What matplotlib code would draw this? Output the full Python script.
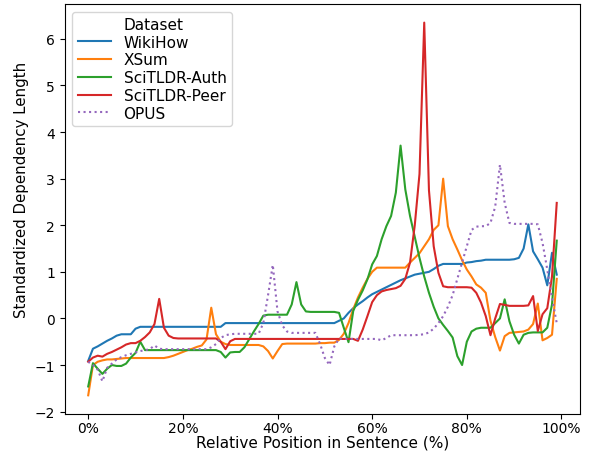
import matplotlib
matplotlib.use("Agg")
import matplotlib.pyplot as plt
from matplotlib.ticker import PercentFormatter
from matplotlib.lines import Line2D

# relative position (%) of each bin
position = list(range(100))

wikihow = [
    -0.91, -0.65, -0.60, -0.54, -0.48, -0.43, -0.37, -0.34, -0.34, -0.34,
    -0.22, -0.18, -0.18, -0.18, -0.18, -0.18, -0.18, -0.18, -0.18, -0.18,
    -0.18, -0.18, -0.18, -0.18, -0.18, -0.18, -0.18, -0.18, -0.18, -0.10,
    -0.10, -0.10, -0.10, -0.10, -0.10, -0.10, -0.10, -0.10, -0.10, -0.10,
    -0.10, -0.10, -0.10, -0.10, -0.10, -0.10, -0.10, -0.10, -0.10, -0.10,
    -0.10, -0.10, -0.10, -0.05, 0.00, 0.12, 0.22, 0.30, 0.37, 0.45,
    0.52, 0.57, 0.62, 0.67, 0.72, 0.77, 0.82, 0.86, 0.90, 0.94,
    0.96, 0.98, 1.00, 1.06, 1.13, 1.17, 1.17, 1.17, 1.17, 1.17,
    1.20, 1.21, 1.23, 1.24, 1.26, 1.26, 1.26, 1.26, 1.26, 1.26,
    1.27, 1.30, 1.50, 2.02, 1.44, 1.27, 1.09, 0.71, 1.41, 0.94,
]

xsum = [
    -1.65, -1.00, -0.93, -0.90, -0.88, -0.88, -0.87, -0.86, -0.85, -0.85,
    -0.85, -0.85, -0.85, -0.85, -0.85, -0.85, -0.85, -0.83, -0.80, -0.76,
    -0.72, -0.68, -0.65, -0.61, -0.58, -0.45, 0.23, -0.34, -0.50, -0.55,
    -0.57, -0.57, -0.57, -0.57, -0.57, -0.57, -0.57, -0.60, -0.70, -0.86,
    -0.70, -0.55, -0.54, -0.54, -0.54, -0.54, -0.54, -0.54, -0.54, -0.53,
    -0.53, -0.52, -0.52, -0.46, -0.33, -0.10, 0.20, 0.45, 0.66, 0.85,
    1.00, 1.09, 1.09, 1.09, 1.09, 1.09, 1.09, 1.09, 1.20, 1.30,
    1.40, 1.55, 1.70, 1.90, 2.00, 3.00, 1.98, 1.70, 1.48, 1.25,
    1.05, 0.90, 0.73, 0.66, 0.55, -0.05, -0.40, -0.69, -0.38, -0.31,
    -0.30, -0.29, -0.28, -0.24, -0.12, 0.32, -0.47, -0.42, -0.35, 0.85,
]

scitldr_auth = [
    -1.46, -0.96, -1.08, -1.19, -1.08, -1.00, -1.02, -1.02, -0.97, -0.84,
    -0.74, -0.50, -0.68, -0.68, -0.68, -0.68, -0.68, -0.68, -0.68, -0.68,
    -0.68, -0.68, -0.68, -0.68, -0.68, -0.68, -0.68, -0.68, -0.72, -0.84,
    -0.73, -0.72, -0.72, -0.62, -0.45, -0.28, -0.12, 0.06, 0.08, 0.08,
    0.08, 0.08, 0.08, 0.30, 0.78, 0.30, 0.15, 0.14, 0.14, 0.14,
    0.14, 0.14, 0.14, 0.12, -0.20, -0.51, 0.16, 0.40, 0.60, 0.84,
    1.16, 1.34, 1.70, 1.98, 2.20, 2.70, 3.71, 2.77, 2.20, 1.75,
    1.30, 0.90, 0.55, 0.25, 0.00, -0.14, -0.27, -0.41, -0.81, -1.00,
    -0.50, -0.28, -0.22, -0.20, -0.20, -0.20, -0.10, 0.00, 0.41, -0.06,
    -0.35, -0.54, -0.35, -0.31, -0.30, -0.30, -0.30, -0.20, 0.30, 1.67,
]

scitldr_peer = [
    -0.93, -0.84, -0.80, -0.82, -0.76, -0.72, -0.67, -0.62, -0.56, -0.53,
    -0.53, -0.48, -0.40, -0.30, -0.12, 0.42, -0.20, -0.37, -0.42, -0.43,
    -0.43, -0.43, -0.43, -0.43, -0.43, -0.43, -0.43, -0.43, -0.50, -0.66,
    -0.49, -0.44, -0.44, -0.44, -0.44, -0.44, -0.44, -0.44, -0.44, -0.44,
    -0.44, -0.44, -0.44, -0.44, -0.44, -0.44, -0.44, -0.44, -0.44, -0.44,
    -0.44, -0.44, -0.44, -0.44, -0.44, -0.44, -0.44, -0.48, -0.24, 0.05,
    0.35, 0.50, 0.58, 0.61, 0.63, 0.65, 0.70, 0.85, 1.20, 2.00,
    3.10, 6.35, 2.75, 1.55, 0.98, 0.69, 0.67, 0.67, 0.67, 0.67,
    0.67, 0.66, 0.55, 0.34, 0.05, -0.36, 0.00, 0.31, 0.29, 0.27,
    0.27, 0.27, 0.27, 0.28, 0.48, -0.27, 0.09, 0.22, 0.90, 2.48,
]

opus = [
    -0.93, -1.00, -1.10, -1.35, -1.06, -0.97, -0.88, -0.83, -0.79, -0.76,
    -0.73, -0.70, -0.68, -0.66, -0.58, -0.65, -0.66, -0.66, -0.66, -0.66,
    -0.66, -0.66, -0.66, -0.66, -0.66, -0.66, -0.62, -0.55, -0.42, -0.36,
    -0.34, -0.33, -0.33, -0.33, -0.33, -0.33, -0.33, -0.10, 0.50, 1.15,
    0.15, -0.15, -0.28, -0.31, -0.31, -0.31, -0.31, -0.31, -0.31, -0.55,
    -0.85, -1.00, -0.60, -0.43, -0.44, -0.44, -0.44, -0.44, -0.44, -0.44,
    -0.44, -0.44, -0.47, -0.42, -0.36, -0.36, -0.36, -0.36, -0.36, -0.36,
    -0.35, -0.34, -0.30, -0.22, -0.10, 0.05, 0.25, 0.50, 0.85, 1.20,
    1.55, 1.90, 1.97, 1.98, 1.98, 2.05, 2.40, 3.30, 2.48, 2.05,
    2.03, 2.03, 2.03, 2.03, 2.03, 2.02, 1.62, 1.05, 0.44, -0.10,
]

names = ["WikiHow", "XSum", "SciTLDR-Auth", "SciTLDR-Peer", "OPUS"]
series = [wikihow, xsum, scitldr_auth, scitldr_peer, opus]
colors = ["tab:blue", "tab:orange", "tab:green", "tab:red", "tab:purple"]
styles = ["-", "-", "-", "-", ":"]

fig, ax = plt.subplots(figsize=(5.89, 4.52), dpi=100)
fig.subplots_adjust(left=0.110, right=0.985, top=0.989, bottom=0.082)

for name, vals, c, ls in zip(names, series, colors, styles):
    ax.plot(position, vals, color=c, linestyle=ls, lw=1.5, label=name)

ax.xaxis.set_major_formatter(PercentFormatter(xmax=100, decimals=0))
ax.set_xticks([0, 20, 40, 60, 80, 100])
ax.tick_params(labelsize=10)
ax.tick_params(axis="x", pad=1.5)
ax.set_xlabel("Relative Position in Sentence (%)", fontsize=11, labelpad=0)
ax.set_ylabel("Standardized Dependency Length", fontsize=10.8)
ax.yaxis.set_label_coords(-0.07, 0.55)

handles, labels = ax.get_legend_handles_labels()
title_handle = Line2D([], [], linestyle="none")
ax.legend([title_handle] + handles, ["Dataset"] + labels, loc="upper left",
          fontsize=11, handlelength=2.2, labelspacing=0.18,
          borderaxespad=0.5, borderpad=0.35)

fig.savefig("out.png", dpi=100)
